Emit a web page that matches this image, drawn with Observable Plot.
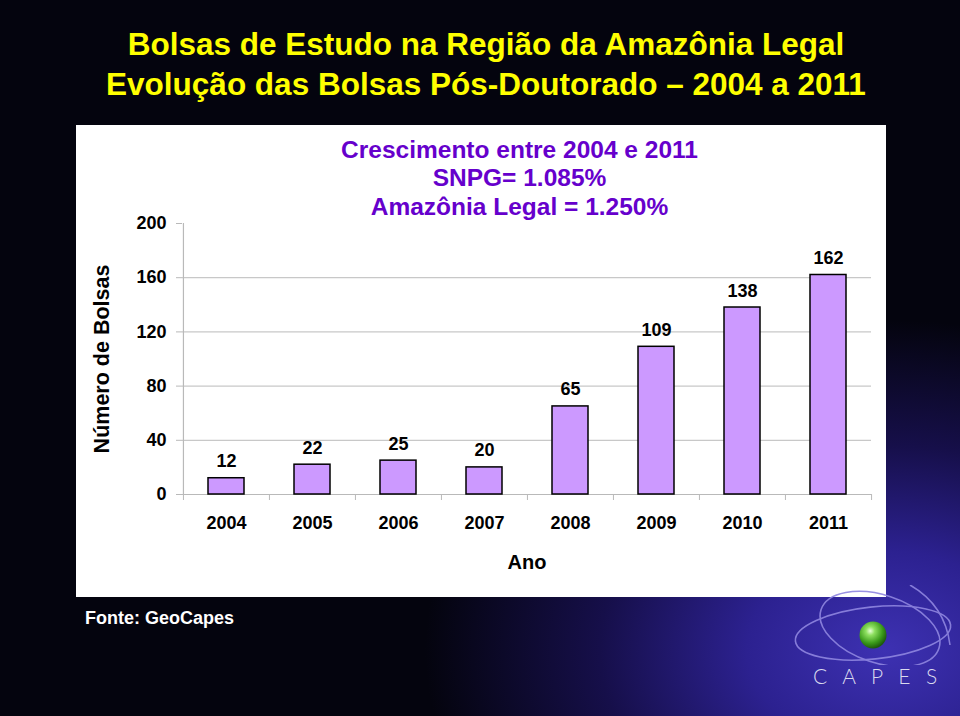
<!DOCTYPE html>
<html>
<head>
<meta charset="utf-8">
<script src="https://cdn.jsdelivr.net/npm/d3@7"></script>
<script src="https://cdn.jsdelivr.net/npm/@observablehq/plot@0.6"></script>
<style>
  html, body { margin: 0; padding: 0; }
  body {
    width: 960px; height: 716px; position: relative; overflow: hidden;
    font-family: "Liberation Sans", Arial, sans-serif;
    background: radial-gradient(ellipse 460px 330px at 885px 650px, #3d31b2 0%, #2c2190 30%, #160f4a 62%, #04040e 100%);
    background-color: #04040e;
  }
  #frame { position: absolute; left: 2px; top: 2px; right: 2px; bottom: 2px; border: 1px solid #8f8f99; pointer-events: none; }
  #title {
    position: absolute; left: 0; width: 972px; top: 24px; text-align: center;
    color: #ffff00; font-weight: bold; font-size: 31.5px; line-height: 40px;
  }
  #chart { position: absolute; left: 76px; top: 125px; }
  #source { position: absolute; left: 85px; top: 606px; color: #ffffff; font-weight: bold; font-size: 18px; line-height: 24px; }
  #logo { position: absolute; left: 770px; top: 585px; }
  #capes { position: absolute; left: 813px; top: 664px; color: #d9d9ee; font-family: Lato, "Liberation Sans", sans-serif; font-weight: 300; font-size: 21px; letter-spacing: 5px; line-height: 24px; }
</style>
</head>
<body>
<div id="title">Bolsas de Estudo na Região da Amazônia Legal<br>Evolução das Bolsas Pós-Doutorado – 2004 a 2011</div>
<div id="chart"></div>
<div id="source">Fonte: GeoCapes</div>
<svg id="logo" width="185" height="80" viewBox="0 0 185 80">
  <defs>
    <radialGradient id="sphere" cx="40%" cy="35%" r="65%">
      <stop offset="0%" stop-color="#e8ffd8"/>
      <stop offset="25%" stop-color="#8ee060"/>
      <stop offset="70%" stop-color="#3a9a1a"/>
      <stop offset="100%" stop-color="#1d5a0c"/>
    </radialGradient>
  </defs>
  <g fill="none" stroke="#8f86e0" stroke-width="1.6" opacity="0.9">
    <ellipse cx="103" cy="48" rx="78" ry="26" transform="rotate(-6 103 48)"/>
    <ellipse cx="110" cy="44" rx="62" ry="34" transform="rotate(18 110 44)"/>
    <path d="M 140 0 Q 175 20 180 60"/>
  </g>
  <circle cx="103" cy="50" r="13.5" fill="url(#sphere)"/>
</svg>
<div id="capes">C A P E S</div>
<script>
// ---- data ----
const years = ["2004", "2005", "2006", "2007", "2008", "2009", "2010", "2011"];
const bolsas = [12, 22, 25, 20, 65, 109, 138, 162];
const yTicks = [0, 40, 80, 120, 160, 200];
const gridValues = [40, 80, 120, 160];
const yLabel = "Número de Bolsas";
const xLabel = "Ano";
const annotation = "Crescimento entre 2004 e 2011\nSNPG= 1.085%\nAmazônia Legal = 1.250%";

const data = years.map((year, i) => ({year, value: bolsas[i]}));

// ---- layout ----
const W = 810, H = 472;
const mL = 106, mR = 15, mT = 98, mB = 103;
const step = (W - mL - mR) / years.length;
const pxPerUnit = (H - mT - mB) / (yTicks[yTicks.length - 1] - yTicks[0]);
const tickLen = 6 / pxPerUnit;
const axisGray = "#b9b9b9";

const chart = Plot.plot({
  width: W,
  height: H,
  marginLeft: mL,
  marginRight: mR,
  marginTop: mT,
  marginBottom: mB,
  style: {background: "#ffffff", fontFamily: "'Liberation Sans', Arial, sans-serif", fontWeight: "bold", color: "#000000", overflow: "visible"},
  x: {domain: years, paddingInner: 0.582, paddingOuter: 0.291, label: null},
  y: {domain: [0, 200], label: null},
  marks: [
    Plot.ruleY(gridValues, {stroke: "#c8c8c8", strokeWidth: 1.2}),
    Plot.ruleY([0], {stroke: axisGray, strokeWidth: 1.2}),
    Plot.ruleX([years[0]], {x: d => d, dx: -step / 2, y1: 0, y2: 200, stroke: axisGray, strokeWidth: 1.2}),
    Plot.ruleX(years, {x: d => d, dx: -step / 2, y1: 0, y2: -tickLen, stroke: axisGray}),
    Plot.ruleX([years[years.length - 1]], {x: d => d, dx: step / 2, y1: 0, y2: -tickLen, stroke: axisGray}),
    Plot.axisY(yTicks, {tickSize: 6, tickPadding: 10, stroke: axisGray, fill: "#000000", fontSize: 18, fontWeight: "bold", label: null}),
    Plot.axisX({tickSize: 0, tickPadding: 22, fill: "#000000", fontSize: 18, fontWeight: "bold", label: null}),
    Plot.barY(data, {x: "year", y: "value", fill: "#cc99ff", stroke: "#000000", strokeWidth: 1.5}),
    Plot.text(data, {x: "year", y: "value", text: d => String(d.value), dy: -11, lineAnchor: "bottom", fontSize: 18, fontWeight: "bold", fill: "#000000"}),
    Plot.text([xLabel], {frameAnchor: "bottom", dy: 74, lineAnchor: "bottom", textAnchor: "middle", fontSize: 20, fontWeight: "bold", fill: "#000000"}),
    Plot.text([yLabel], {frameAnchor: "left", dx: -80, rotate: -90, textAnchor: "middle", lineAnchor: "middle", fontSize: 21.5, fontWeight: "bold", fill: "#000000"}),
    Plot.text([annotation], {frameAnchor: "top", dx: -7.5, dy: -8.7, lineAnchor: "bottom", textAnchor: "middle", lineHeight: 1.165, fontSize: 24.5, fontWeight: "bold", fill: "#6600cc"})
  ]
});
document.getElementById("chart").appendChild(chart);
</script>
</body>
</html>
